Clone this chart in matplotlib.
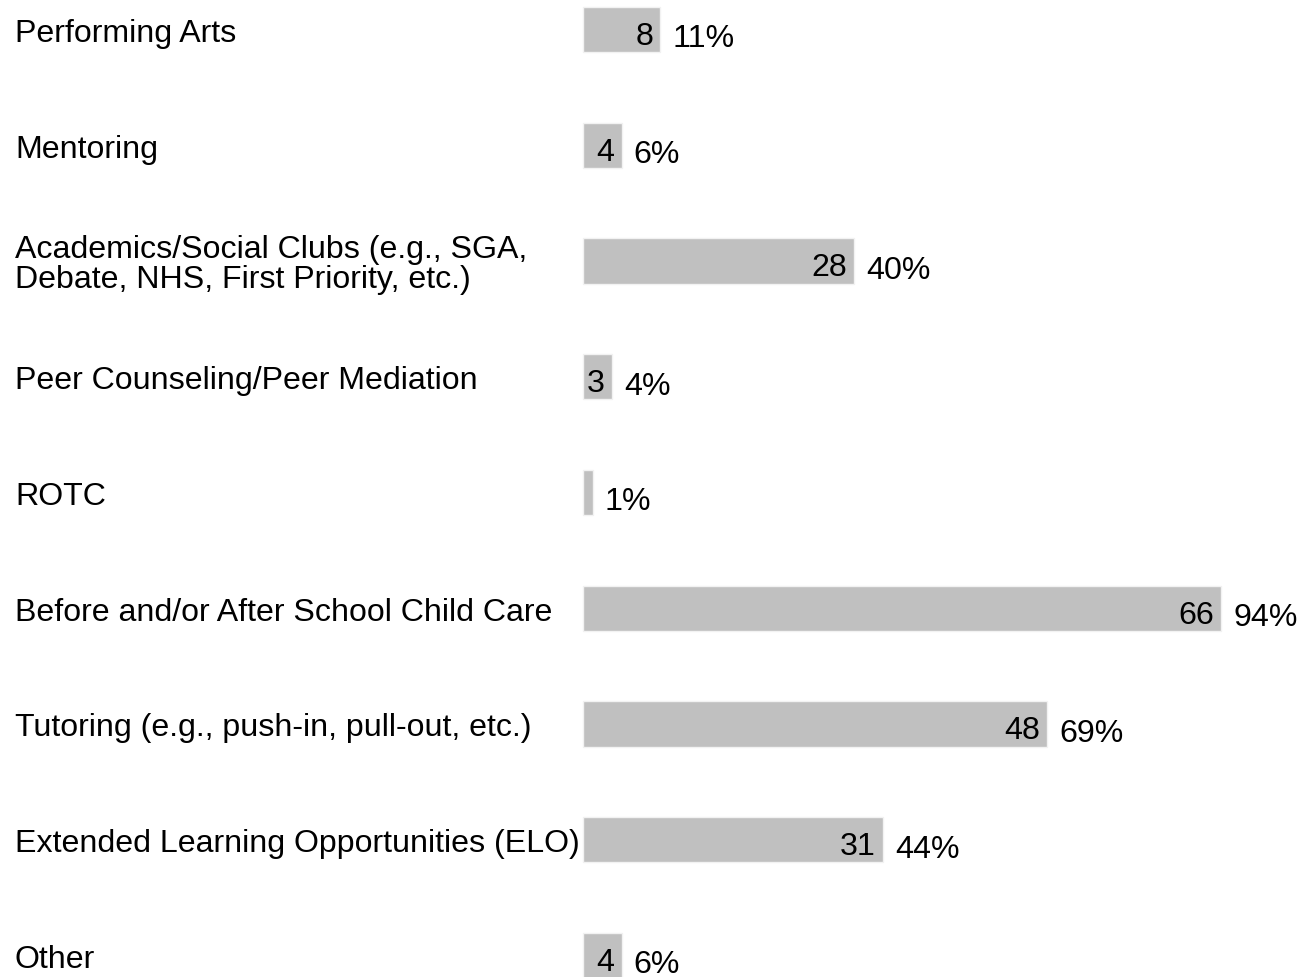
import matplotlib
matplotlib.use("Agg")
import matplotlib.pyplot as plt
import matplotlib.transforms as mtransforms

categorias = [
    "Performing Arts",
    "Mentoring",
    "Academics/Social Clubs (e.g., SGA,\nDebate, NHS, First Priority, etc.)",
    "Peer Counseling/Peer Mediation",
    "ROTC",
    "Before and/or After School Child Care",
    "Tutoring (e.g., push-in, pull-out, etc.)",
    "Extended Learning Opportunities (ELO)",
    "Other",
]
contagens = [8, 4, 28, 3, 1, 66, 48, 31, 4]
percentuais = [11, 6, 40, 4, 1, 94, 69, 44, 6]

plt.rcParams["font.family"] = ["Liberation Sans", "DejaVu Sans"]

W, H = 1301, 977
fig = plt.figure(figsize=(W / 100, H / 100), dpi=100)
ax = fig.add_axes([0, 0, 1, 1])
ax.set_axis_off()

# escala em pixels: barras começam em x=583, ~9.67 px por unidade
px_por_un = 9.67
x0_px = 583
ax.set_xlim(-x0_px / px_por_un, (W - x0_px) / px_por_un)

# linhas: centro da primeira em y=29.5 px, espaçamento 115.75 px
passo = 115.75
topo = 29.5
ax.set_ylim((H - topo) / passo, -topo / passo)

ys = list(range(len(categorias)))
ax.barh(ys, contagens, height=0.39, left=0, color="#c0c0c0",
        edgecolor="#f2f2f2", linewidth=1.0)

px = 1 / passo  # um pixel em unidades de y
fs = 23.1
trans_lbl = mtransforms.blended_transform_factory(fig.transFigure, ax.transData)
for y, cat, n, p in zip(ys, categorias, contagens, percentuais):
    ax.text(15 / W, y + 4.5 * px, cat, transform=trans_lbl, ha="left", va="center",
            fontsize=fs, linespacing=1.0, color="black")
    if n >= 2:
        ax.text(n - 7 / px_por_un, y + 7.5 * px, str(n), ha="right", va="center",
                fontsize=fs, color="black")
    ax.text(n + 12 / px_por_un, y + 10 * px, f"{p}%", ha="left", va="center",
            fontsize=fs, color="black")

fig.savefig("out.png", dpi=100, facecolor="white")
